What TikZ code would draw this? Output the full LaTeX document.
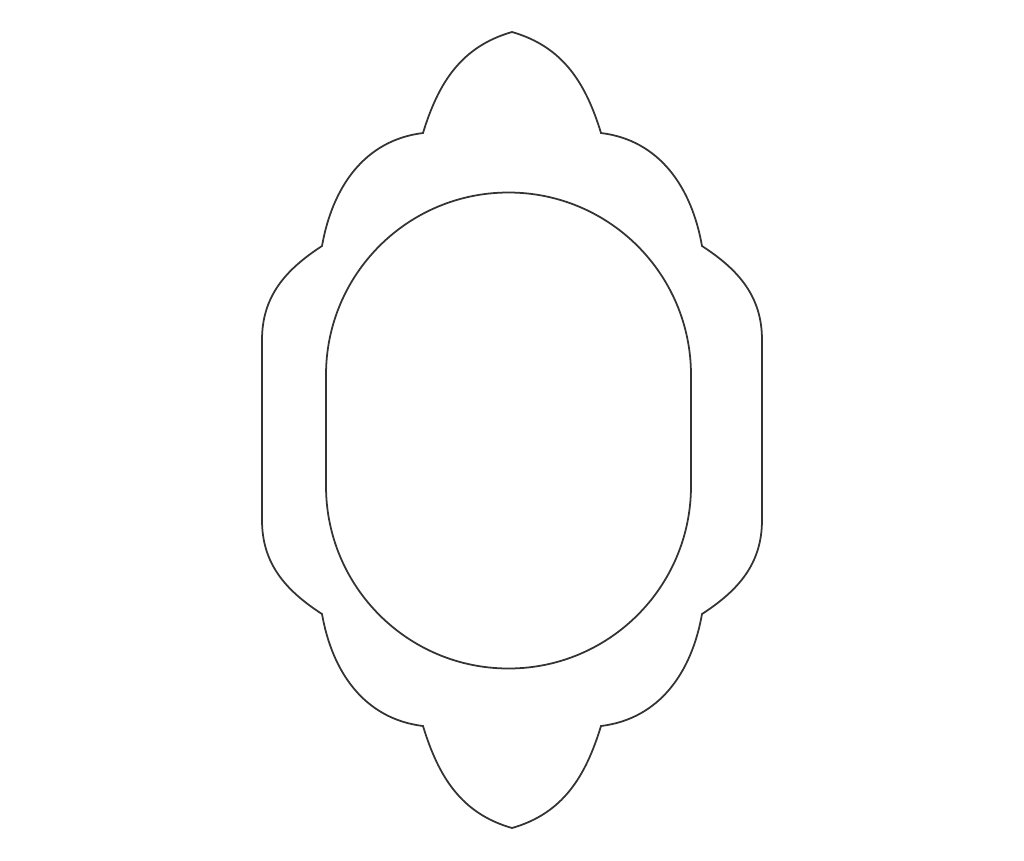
\documentclass[tikz,border=0pt]{standalone}
\usetikzlibrary{calc}
\begin{document}
\begin{tikzpicture}[x=0.01cm, y=0.01cm, rim/.style={line width=.5pt, black!80}]
\useasboundingbox (0,0) rectangle (1024,-860);
% outer frame, left half and its mirror
\foreach \s in {1,-1} {
 \begin{scope}[shift={(512,0)}, xscale=\s]
 \draw[rim] (0,-32) to[out=196,in=73] (-89,-133) to[out=187,in=80] (-190,-246)
   to[out=213,in=90] (-250,-340) -- (-250,-520) to[out=270,in=147] (-190,-614)
   to[out=280,in=173] (-89,-726) to[out=287,in=164] (0,-828);
 \end{scope}
}
% inner oval
\draw[rim] (326,-486) -- (326,-375) arc[start angle=180,end angle=0,radius=182.5]
  -- (691,-486) arc[start angle=0,end angle=-180,radius=182.5] -- cycle;
\end{tikzpicture}
\end{document}
